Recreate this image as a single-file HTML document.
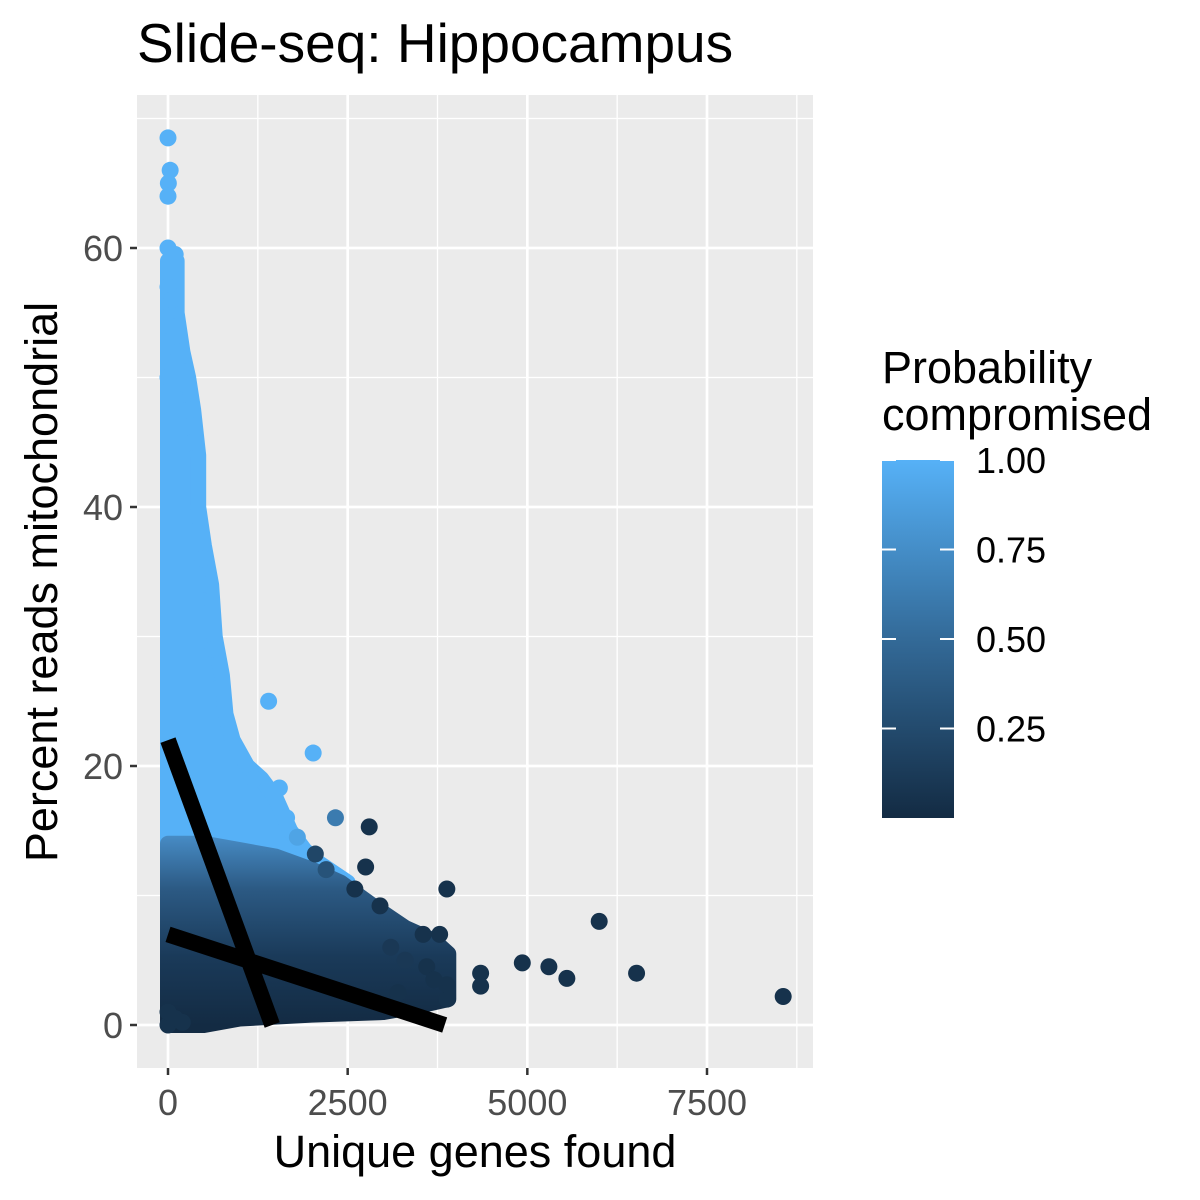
<!DOCTYPE html>
<html><head><meta charset="utf-8"><style>
html,body{margin:0;padding:0;background:#fff;}
svg{display:block;font-family:"Liberation Sans",sans-serif;}
</style></head><body>
<svg id="chart" width="1200" height="1200" viewBox="0 0 1200 1200">
<defs>
<linearGradient id="midGrad" gradientUnits="userSpaceOnUse" x1="0" y1="1025" x2="0" y2="830">
<stop offset="0" stop-color="#132B43"/><stop offset="0.35" stop-color="#1a3a59"/><stop offset="0.7" stop-color="#2c5a84"/><stop offset="1" stop-color="#4a91cc"/>
</linearGradient>
<linearGradient id="legendGrad" x1="0" y1="1" x2="0" y2="0">
<stop offset="0" stop-color="#132B43"/><stop offset="0.5" stop-color="#336A98"/><stop offset="1" stop-color="#56B1F7"/>
</linearGradient>
</defs>
<text x="137" y="62" font-size="55" fill="#000">Slide-seq: Hippocampus</text>
<rect x="137" y="95" width="676" height="973" fill="#EBEBEB"/>
<g id="grid"></g>
<g id="marks"></g>
<g id="axes"></g>
<text x="475" y="1167" font-size="45" text-anchor="middle" fill="#000">Unique genes found</text>
<text transform="translate(57,582) rotate(-90)" font-size="45" text-anchor="middle" fill="#000">Percent reads mitochondrial</text>
<g>
<text x="882" y="383" font-size="45" fill="#000">Probability</text>
<text x="882" y="430" font-size="45" fill="#000">compromised</text>
<rect x="882" y="460" width="72" height="358" fill="url(#legendGrad)"/>
<g id="legendTicks"></g>
</g>
</svg>
<script>
const xTicks=[0,2500,5000,7500];
const xMinor=[1250,3750,6250,8750];
const yTicks=[0,20,40,60];
const yMinor=[10,30,50,70];
const legendTicks=[0.25,0.5,0.75,1.0];
const legendLabels=["0.25","0.50","0.75","1.00"];
// envelopes of dense point cloud (genes, percent)
const lightGenes=[0,120,120,200,280,350,420,420,500,600,650,750,800,900,1100,1300,1500,1700,1900,2100,2500,2500,0];
const lightPct=[59,59,55,52,50,47.5,44,40,37,34,30,27,24,22,20,19,17.5,15,13.5,12.5,11,8,8];
const darkGenes=[0,500,1000,1500,2000,2400,2900,3300,3700,3900,3900,3500,3000,2000,1000,500,0];
const darkPct=[14,14,13.5,13,12,11,9,7.5,6.5,5.5,2,1.5,1,0.8,0.5,0,0];
// individual points
const ptGenes=[0,30,5,0,0,100,0,50,20,60,0,150,230,180,300,350,420,480,550,620,700,1400,2020,1550,2330,2800,3880,6000,8560,6520,5550,5300,4930,4350,4350,3880,3880,3780,3550,2750,2050,2950,2600,1200,1650,1800,2200,3100,3300,3600,3700,3200,0,0,100,200];
const ptPct=[68.5,66,65,64,60,59.5,57,55,54,56,50,52,49.5,50.5,47.5,45,38,36,34,29,26,25,21,18.3,16,15.3,10.5,8,2.2,4,3.6,4.5,4.8,4,3,2,3.1,7,7,12.2,13.2,9.2,10.5,19,16,14.5,12,6,5,4.5,3.5,2.5,0,1,0.5,0.2];
const ptProb=[1,1,1,1,1,1,1,1,1,1,1,1,1,1,1,1,1,1,1,1,1,1,1,1,0.6,0.05,0.05,0.05,0.05,0.05,0.05,0.05,0.05,0.05,0.05,0.05,0.05,0.05,0.05,0.05,0.2,0.05,0.05,1,1,0.9,0.3,0.1,0.1,0.05,0.05,0.05,0.05,0.05,0.05,0.05];
// fitted lines (genes, pct)
const line1Genes=[0,1450]; const line1Pct=[22,0];
const line2Genes=[0,3850]; const line2Pct=[7,0];

const NS="http://www.w3.org/2000/svg";
const xS=v=>168+v*(707-168)/7500;
const yS=v=>1025-v*(1025-248)/60;
function mk(tag,attrs,parent){const e=document.createElementNS(NS,tag);for(const k in attrs)e.setAttribute(k,attrs[k]);parent.appendChild(e);return e;}
function lerp(a,b,t){return Math.round(a+(b-a)*t);}
function col(p){return `rgb(${lerp(19,86,p)},${lerp(43,177,p)},${lerp(67,247,p)})`;}
const grid=document.getElementById('grid'),marks=document.getElementById('marks'),axes=document.getElementById('axes');
xMinor.forEach(v=>{const l=mk('line',{x1:xS(v),x2:xS(v),y1:95,y2:1068,stroke:'#fff','stroke-width':1.3},grid);
});
yMinor.forEach(v=>{const l=mk('line',{x1:137,x2:813,y1:yS(v),y2:yS(v),stroke:'#fff','stroke-width':1.3},grid);
});
xTicks.forEach(v=>{const l=mk('line',{x1:xS(v),x2:xS(v),y1:95,y2:1068,stroke:'#fff','stroke-width':2.7},grid);

const t=mk('line',{x1:xS(v),x2:xS(v),y1:1068,y2:1075,stroke:'#333','stroke-width':2.5},axes);

const tx=mk('text',{x:xS(v),y:1115,'font-size':36,'text-anchor':'middle',fill:'#4D4D4D'},axes);tx.textContent=String(v);
});
yTicks.forEach(v=>{const l=mk('line',{x1:137,x2:813,y1:yS(v),y2:yS(v),stroke:'#fff','stroke-width':2.7},grid);

const t=mk('line',{x1:130,x2:137,y1:yS(v),y2:yS(v),stroke:'#333','stroke-width':2.5},axes);

const tx=mk('text',{x:123,y:yS(v)+13,'font-size':36,'text-anchor':'end',fill:'#4D4D4D'},axes);tx.textContent=String(v);
});
function poly(gs,ps,fill,name){const pts=gs.map((g,i)=>xS(g)+','+yS(ps[i])).join(' ');
const p=mk('polygon',{points:pts,fill:fill,stroke:fill,'stroke-width':16,'stroke-linejoin':'round'},marks);
}
poly(lightGenes,lightPct,'#56B1F7','high-probability-cloud');
poly(darkGenes,darkPct,'url(#midGrad)','low-probability-cloud');
ptGenes.forEach((g,i)=>{const c=mk('circle',{cx:xS(g),cy:yS(ptPct[i]),r:8.5,fill:col(ptProb[i])},marks);
});
[[line1Genes,line1Pct,'fit-line-steep'],[line2Genes,line2Pct,'fit-line-shallow']].forEach(([g,p,n])=>{
const l=mk('line',{x1:xS(g[0]),y1:yS(p[0]),x2:xS(g[1]),y2:yS(p[1]),stroke:'#000','stroke-width':16},marks);
});
const lt=document.getElementById('legendTicks');
const lyS=v=>818-v*358;
legendTicks.forEach((v,i)=>{
const a=mk('line',{x1:882,x2:896,y1:lyS(v),y2:lyS(v),stroke:'#fff','stroke-width':2},lt);

const b=mk('line',{x1:940,x2:954,y1:lyS(v),y2:lyS(v),stroke:'#fff','stroke-width':2},lt);

const t=mk('text',{x:976,y:lyS(v)+13,'font-size':36,fill:'#000'},lt);t.textContent=legendLabels[i];
});
</script>
</body></html>
